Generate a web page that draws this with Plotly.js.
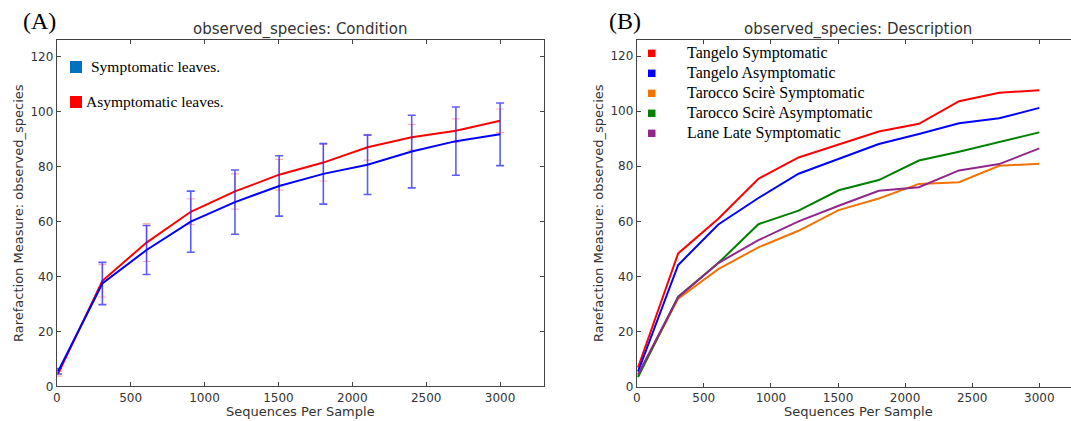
<!DOCTYPE html>
<html>
<head>
<meta charset="utf-8">
<script src="https://cdn.plot.ly/plotly-3.0.1.min.js"></script>
<style>html,body{margin:0;padding:0;background:#fff;}#chart{width:1071px;height:421px;}</style>
</head>
<body>
<div id="chart"></div>
<script>
// ---------- data ----------
const depths = [10, 309, 608, 907, 1206, 1505, 1804, 2103, 2402, 2701, 3000];

// Panel A: Condition
const conditionNames = ["Symptomatic leaves.", "Asymptomatic leaves."];
const symptomaticMean = [5.5, 37.4, 49.6, 59.9, 67.0, 72.9, 77.3, 80.6, 85.4, 89.2, 91.7];
const symptomaticErr  = [1.0, 7.7, 8.9, 11.1, 11.7, 11.0, 11.0, 10.8, 13.2, 12.4, 11.4];
const asymptomaticMean = [4.6, 38.4, 52.3, 63.5, 70.9, 77.0, 81.4, 87.0, 90.6, 93.0, 96.6];
const asymptomaticErr  = [0.9, 5.9, 6.9, 4.7, 6.4, 5.6, 6.7, 4.7, 4.7, 4.3, 4.3];

// Panel B: Description
const descriptionNames = ["Tangelo Symptomatic", "Tangelo Asymptomatic", "Tarocco Scirè Symptomatic", "Tarocco Scirè Asymptomatic", "Lane Late Symptomatic"];
const tangeloSymptomatic   = [7.0, 48.4, 61.0, 75.5, 83.2, 88.0, 92.6, 95.4, 103.6, 106.7, 107.6];
const tangeloAsymptomatic  = [5.5, 44.2, 58.9, 68.5, 77.3, 82.6, 88.1, 91.7, 95.6, 97.4, 101.2];
const taroccoSymptomatic   = [4.0, 32.0, 42.7, 50.6, 56.6, 64.1, 68.3, 73.6, 74.2, 80.2, 80.9];
const taroccoAsymptomatic  = [3.5, 32.7, 44.9, 59.0, 63.9, 71.3, 75.0, 82.1, 85.3, 88.7, 92.3];
const laneLateSymptomatic  = [4.5, 32.5, 44.9, 53.2, 60.0, 65.7, 71.1, 72.4, 78.5, 80.8, 86.5];

const xTickVals = [0, 500, 1000, 1500, 2000, 2500, 3000];
const yTickVals = [0, 20, 40, 60, 80, 100, 120];

// ---------- styling ----------
const W = 1071, H = 421;
const px = x => x / W;
const py = y => 1 - y / H;
const tickFont = {family: "DejaVu Sans, sans-serif", size: 12, color: "#333"};
const serif = "Liberation Serif, Times New Roman, serif";
const sans = "DejaVu Sans, sans-serif";

const colA = ["#0000ff", "#ff0000"];
const colB = ["#ff0000", "#0000ff", "#f27304", "#008000", "#91278d"];
const seriesB = [tangeloSymptomatic, tangeloAsymptomatic, taroccoSymptomatic, taroccoAsymptomatic, laneLateSymptomatic];

const traces = [];
traces.push({
  x: depths, y: asymptomaticMean, type: "scatter", mode: "lines", name: conditionNames[1],
  xaxis: "x", yaxis: "y", line: {color: colA[1], width: 2},
  error_y: {type: "data", array: asymptomaticErr, visible: true, color: "rgba(255,60,60,0.4)", thickness: 1.2, width: 4},
  showlegend: false
});
traces.push({
  x: depths, y: symptomaticMean, type: "scatter", mode: "lines", name: conditionNames[0],
  xaxis: "x", yaxis: "y", line: {color: colA[0], width: 2},
  error_y: {type: "data", array: symptomaticErr, visible: true, color: "rgba(30,30,255,0.72)", thickness: 1.6, width: 4},
  showlegend: false
});
seriesB.forEach((s, i) => traces.push({
  x: depths, y: s, type: "scatter", mode: "lines", name: descriptionNames[i],
  xaxis: "x2", yaxis: "y2", line: {color: colB[i], width: 2}, showlegend: false
}));

function xax(domain, range, mirror) {
  return {domain: domain, range: range, tickvals: xTickVals, ticks: "inside", ticklen: 4,
    tickcolor: "#444", showline: true, linecolor: "#444", linewidth: 1, mirror: mirror,
    showgrid: false, zeroline: false, tickfont: tickFont, fixedrange: true};
}
function yax(domain, anchor, mirror) {
  return {domain: domain, range: [0, 126], tickvals: yTickVals, ticks: "inside", ticklen: 4,
    tickcolor: "#444", showline: true, linecolor: "#444", linewidth: 1, mirror: mirror,
    showgrid: false, zeroline: false, tickfont: tickFont, anchor: anchor, fixedrange: true};
}

const layout = {
  width: W, height: H, margin: {l: 0, r: 0, t: 0, b: 0},
  paper_bgcolor: "#fff", plot_bgcolor: "#fff", showlegend: false,
  xaxis: Object.assign(xax([px(56.7), px(544)], [0, 3297], "ticks"), {anchor: "y"}),
  yaxis: yax([py(386.3), py(40)], "x", "ticks"),
  xaxis2: Object.assign(xax([px(636.7), 1], [0, 3236], "ticks"), {anchor: "y2"}),
  yaxis2: yax([py(386.8), py(39.5)], "x2", false),
  shapes: [], annotations: []
};

const ann = layout.annotations;
function addText(text, x, y, font, extra) {
  ann.push(Object.assign({text: text, x: px(x), y: py(y), xref: "paper", yref: "paper",
    xanchor: "center", yanchor: "middle", showarrow: false, font: font}, extra || {}));
}
addText("(A)", 39, 21, {family: serif, size: 24, color: "#000"});
addText("(B)", 625, 21, {family: serif, size: 24, color: "#000"});
addText("observed_species: Condition", 300, 29, {family: sans, size: 15, color: "#333"});
addText("observed_species: Description", 858, 29, {family: sans, size: 15, color: "#333"});
addText("Sequences Per Sample", 300, 411, {family: sans, size: 13, color: "#333"});
addText("Sequences Per Sample", 858, 411, {family: sans, size: 13, color: "#333"});
addText("Rarefaction Measure: observed_species", 18, 213, {family: sans, size: 13, color: "#333"}, {textangle: -90});
addText("Rarefaction Measure: observed_species", 598, 213, {family: sans, size: 13, color: "#333"}, {textangle: -90});

// legend A
const legA = [{sq: [70, 61, 82, 73], tx: 89, ty: 67, col: "#0070c0", name: conditionNames[0]},
              {sq: [70, 96, 82, 108], tx: 84, ty: 101, col: "#ff0000", name: conditionNames[1]}];
legA.forEach(l => {
  layout.shapes.push({type: "rect", xref: "paper", yref: "paper", x0: px(l.sq[0]), x1: px(l.sq[2]), y0: py(l.sq[3]), y1: py(l.sq[1]), fillcolor: l.col, line: {width: 0}});
  addText(l.name, l.tx, l.ty, {family: serif, size: 15.5, color: "#000"}, {xanchor: "left"});
});
// legend B
descriptionNames.forEach((n, i) => {
  const cy = 53.3 + 20 * i;
  layout.shapes.push({type: "rect", xref: "paper", yref: "paper", x0: px(648), x1: px(655.5), y0: py(cy + 3.7), y1: py(cy - 3.7), fillcolor: colB[i], line: {width: 0}});
  addText(n, 685, cy - 0.5, {family: serif, size: 16, color: "#000"}, {xanchor: "left"});
});

Plotly.newPlot("chart", traces, layout, {displayModeBar: false, staticPlot: true});
</script>
</body>
</html>
